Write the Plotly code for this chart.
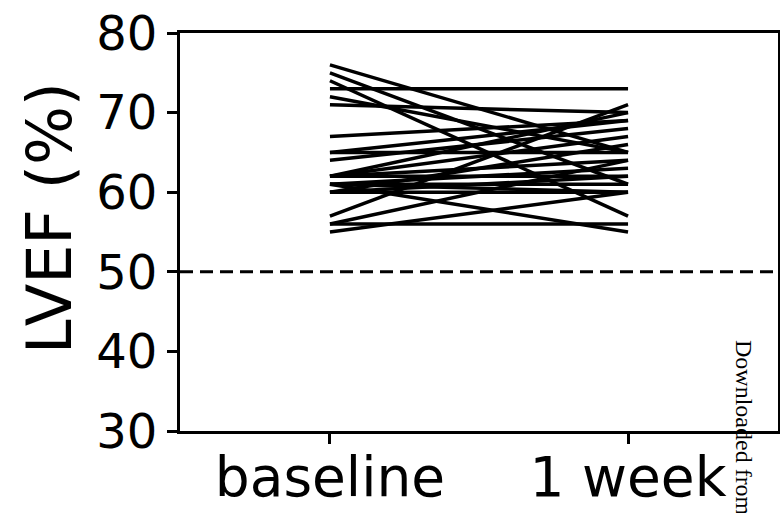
import plotly.graph_objects as go

# Data
timepoints = ["baseline", "1 week"]
lvef_baseline = [76, 75, 74, 73, 72, 71, 67, 65, 65, 64, 62, 62, 62, 61, 61, 61, 61, 60, 60, 60, 57, 56, 56, 55, 62]
lvef_1week    = [65, 61, 57, 73, 65, 70, 69, 69, 65, 68, 64, 62, 67, 63, 60, 61, 55, 62, 60, 66, 71, 56, 64, 60, 70]
threshold = 50
y_ticks = [30, 40, 50, 60, 70, 80]

W, H = 780, 513
L, R, T, B = 180, 2, 33, 82

def px(sx):
    return (sx - L) / float(W - L - R)

def py(sy):
    return (H - B - sy) / float(H - T - B)

fig = go.Figure()
xpos = list(range(len(timepoints)))
for b, w in zip(lvef_baseline, lvef_1week):
    fig.add_trace(go.Scatter(x=xpos, y=[b, w], mode="lines",
                             line=dict(color="black", width=3.5),
                             showlegend=False, hoverinfo="skip"))

fig.add_shape(type="line", xref="paper", yref="y", x0=0, x1=1,
              y0=threshold, y1=threshold,
              line=dict(color="black", width=3, dash="13px,7px"))

font = "DejaVu Sans, Arial, sans-serif"
fig.update_layout(
    width=W, height=H, autosize=False,
    margin=dict(l=L, r=R, t=T, b=B, pad=0, autoexpand=False),
    paper_bgcolor="white", plot_bgcolor="white",
    showlegend=False,
    xaxis=dict(range=[-0.503, 1.503], tickvals=xpos, ticktext=timepoints,
               automargin=False, ticklabelstandoff=-14,
               showgrid=False, zeroline=False, showline=True, mirror=True,
               linecolor="black", linewidth=3, ticks="outside", ticklen=10,
               tickwidth=3, tickcolor="black",
               tickfont=dict(family=font, size=55, color="black")),
    yaxis=dict(range=[30, 80], tickvals=y_ticks, automargin=False,
               showgrid=False, zeroline=False, showline=True, mirror=True,
               linecolor="black", linewidth=3, ticks="outside", ticklen=10,
               tickwidth=3, tickcolor="black",
               tickfont=dict(family=font, size=48, color="black")),
    annotations=[
        dict(text="LVEF (%)", xref="paper", yref="paper", x=px(50), y=py(218),
             xanchor="center", yanchor="middle", textangle=-90, showarrow=False,
             font=dict(family=font, size=62, color="black")),
        dict(text="Downloaded from", xref="paper", yref="paper", x=px(744), y=py(338),
             xanchor="center", yanchor="top", textangle=90, showarrow=False,
             font=dict(family="Liberation Serif, Times New Roman, serif", size=24, color="black")),
    ],
)

fig.write_html("out.html",
               config={"displayModeBar": False, "staticPlot": True},
               post_script="document.body.style.margin='0';document.body.style.overflow='hidden';")
